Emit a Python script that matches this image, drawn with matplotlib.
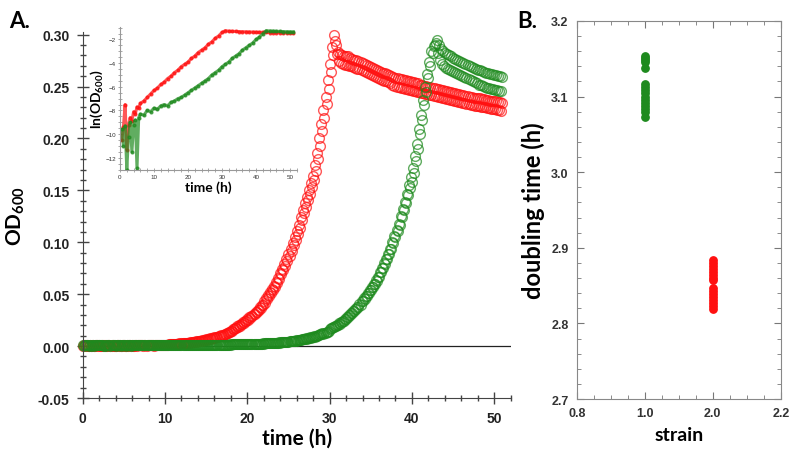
import numpy as np
import matplotlib.pyplot as plt
from matplotlib.ticker import MultipleLocator, FormatStrFormatter

plt.rcParams['font.family'] = ['Liberation Sans', 'DejaVu Sans']
plt.rcParams['mathtext.fontset'] = 'custom'
plt.rcParams['mathtext.rm'] = 'Lato'
plt.rcParams['mathtext.bf'] = 'Lato:bold'

RED = '#ff1010'
GREEN = '#1e8a1e'
LABEL_FONT = ['Lato', 'DejaVu Sans']

# --- panel A: OD600 readings, two replicates per strain ---
# replicate a read every 0.25 h from 0 h, replicate b every 0.25 h from 0.125 h
time_a = np.arange(0, 51.01, 0.25)
time_b = np.arange(0.125, 50.9, 0.25)

red_od_a = [
    0.000, 0.001, 0.001, 0.000, 0.000, 0.001, 0.000, 0.001,
    0.001, 0.000, 0.000, 0.001, 0.000, 0.001, 0.000, 0.000,
    0.000, 0.001, 0.001, 0.000, 0.001, 0.000, 0.000, 0.001,
    0.001, 0.000, 0.001, 0.001, 0.001, 0.001, 0.001, 0.000,
    0.001, 0.001, 0.001, 0.001, 0.001, 0.001, 0.001, 0.001,
    0.001, 0.001, 0.002, 0.002, 0.002, 0.002, 0.002, 0.003,
    0.003, 0.003, 0.003, 0.003, 0.004, 0.004, 0.004, 0.005,
    0.005, 0.005, 0.006, 0.006, 0.007, 0.007, 0.008, 0.008,
    0.009, 0.009, 0.010, 0.011, 0.011, 0.012, 0.013, 0.014,
    0.015, 0.016, 0.017, 0.019, 0.020, 0.021, 0.023, 0.024,
    0.026, 0.028, 0.029, 0.031, 0.033, 0.035, 0.038, 0.040,
    0.043, 0.046, 0.049, 0.052, 0.055, 0.058, 0.062, 0.066,
    0.070, 0.074, 0.079, 0.084, 0.089, 0.094, 0.099, 0.105,
    0.111, 0.117, 0.124, 0.131, 0.138, 0.144, 0.150, 0.157,
    0.164, 0.174, 0.186, 0.200, 0.214, 0.227, 0.240, 0.256,
    0.272, 0.288, 0.300, 0.290, 0.283, 0.281, 0.280, 0.279,
    0.279, 0.279, 0.278, 0.277, 0.276, 0.276, 0.275, 0.274,
    0.273, 0.272, 0.271, 0.270, 0.269, 0.268, 0.267, 0.266,
    0.265, 0.264, 0.263, 0.263, 0.262, 0.261, 0.260, 0.259,
    0.258, 0.258, 0.257, 0.257, 0.256, 0.256, 0.255, 0.255,
    0.254, 0.254, 0.253, 0.253, 0.252, 0.252, 0.251, 0.251,
    0.250, 0.250, 0.249, 0.249, 0.248, 0.248, 0.247, 0.247,
    0.246, 0.246, 0.245, 0.245, 0.244, 0.244, 0.243, 0.243,
    0.242, 0.242, 0.241, 0.241, 0.240, 0.240, 0.239, 0.239,
    0.239, 0.239, 0.238, 0.238, 0.237, 0.237, 0.236, 0.236,
    0.236, 0.236, 0.235, 0.235, 0.234,
]
red_od_b = [
    0.001, 0.000, 0.000, 0.001, 0.000, 0.000, 0.001, 0.000,
    0.000, 0.001, 0.001, 0.000, 0.001, 0.000, 0.001, 0.000,
    0.001, 0.000, 0.000, 0.001, 0.000, 0.001, 0.001, 0.000,
    0.000, 0.001, 0.000, 0.001, 0.001, 0.000, 0.001, 0.001,
    0.001, 0.001, 0.000, 0.001, 0.001, 0.001, 0.001, 0.001,
    0.001, 0.001, 0.002, 0.002, 0.002, 0.002, 0.002, 0.002,
    0.003, 0.003, 0.003, 0.003, 0.003, 0.004, 0.004, 0.004,
    0.005, 0.005, 0.005, 0.006, 0.006, 0.007, 0.007, 0.008,
    0.008, 0.009, 0.010, 0.010, 0.011, 0.012, 0.013, 0.014,
    0.015, 0.016, 0.017, 0.018, 0.019, 0.021, 0.022, 0.024,
    0.025, 0.027, 0.029, 0.031, 0.033, 0.035, 0.037, 0.040,
    0.042, 0.045, 0.048, 0.051, 0.054, 0.057, 0.061, 0.065,
    0.069, 0.073, 0.077, 0.082, 0.087, 0.092, 0.097, 0.102,
    0.108, 0.114, 0.121, 0.128, 0.134, 0.141, 0.147, 0.153,
    0.160, 0.169, 0.180, 0.193, 0.207, 0.220, 0.233, 0.248,
    0.264, 0.280, 0.294, 0.281, 0.275, 0.273, 0.272, 0.271,
    0.271, 0.270, 0.270, 0.269, 0.268, 0.267, 0.267, 0.266,
    0.265, 0.264, 0.263, 0.262, 0.261, 0.260, 0.259, 0.258,
    0.257, 0.256, 0.255, 0.255, 0.254, 0.253, 0.252, 0.251,
    0.250, 0.250, 0.249, 0.249, 0.248, 0.248, 0.247, 0.247,
    0.246, 0.246, 0.245, 0.245, 0.244, 0.244, 0.243, 0.243,
    0.242, 0.242, 0.241, 0.241, 0.240, 0.240, 0.239, 0.239,
    0.238, 0.238, 0.237, 0.237, 0.236, 0.236, 0.235, 0.235,
    0.234, 0.234, 0.233, 0.233, 0.232, 0.232, 0.231, 0.231,
    0.231, 0.230, 0.230, 0.230, 0.229, 0.229, 0.228, 0.228,
    0.228, 0.227, 0.227, 0.226,
]
green_od_a = [
    0.001, 0.001, 0.001, 0.000, 0.000, 0.001, 0.001, 0.001,
    0.001, 0.001, 0.001, 0.000, 0.001, 0.001, 0.001, 0.001,
    0.000, 0.001, 0.001, 0.001, 0.001, 0.000, 0.001, 0.001,
    0.001, 0.001, 0.001, 0.001, 0.001, 0.001, 0.001, 0.001,
    0.001, 0.001, 0.001, 0.001, 0.001, 0.001, 0.001, 0.001,
    0.001, 0.001, 0.001, 0.001, 0.001, 0.001, 0.001, 0.001,
    0.001, 0.001, 0.001, 0.001, 0.001, 0.001, 0.001, 0.001,
    0.001, 0.001, 0.001, 0.001, 0.001, 0.001, 0.001, 0.001,
    0.001, 0.001, 0.001, 0.001, 0.001, 0.001, 0.001, 0.001,
    0.001, 0.002, 0.002, 0.002, 0.002, 0.002, 0.002, 0.002,
    0.002, 0.002, 0.002, 0.002, 0.002, 0.002, 0.002, 0.002,
    0.002, 0.003, 0.003, 0.003, 0.003, 0.003, 0.003, 0.003,
    0.003, 0.004, 0.004, 0.004, 0.004, 0.005, 0.005, 0.005,
    0.005, 0.006, 0.006, 0.007, 0.007, 0.007, 0.008, 0.008,
    0.009, 0.009, 0.010, 0.011, 0.012, 0.012, 0.013, 0.014,
    0.016, 0.017, 0.018, 0.019, 0.020, 0.021, 0.023, 0.024,
    0.026, 0.028, 0.030, 0.032, 0.034, 0.036, 0.038, 0.040,
    0.043, 0.045, 0.048, 0.051, 0.054, 0.057, 0.060, 0.063,
    0.067, 0.071, 0.075, 0.079, 0.084, 0.089, 0.094, 0.099,
    0.105, 0.111, 0.117, 0.124, 0.131, 0.138, 0.146, 0.152,
    0.158, 0.167, 0.178, 0.190, 0.204, 0.218, 0.232, 0.245,
    0.258, 0.270, 0.282, 0.290, 0.295, 0.290, 0.286, 0.284,
    0.282, 0.281, 0.280, 0.279, 0.278, 0.277, 0.276, 0.275,
    0.274, 0.273, 0.272, 0.271, 0.270, 0.269, 0.268, 0.267,
    0.266, 0.266, 0.265, 0.264, 0.263, 0.263, 0.262, 0.262,
    0.261, 0.261, 0.260, 0.260, 0.259,
]
green_od_b = [
    0.000, 0.001, 0.001, 0.001, 0.001, 0.000, 0.001, 0.001,
    0.001, 0.001, 0.000, 0.001, 0.001, 0.000, 0.001, 0.001,
    0.001, 0.001, 0.000, 0.001, 0.001, 0.001, 0.001, 0.000,
    0.001, 0.001, 0.001, 0.001, 0.001, 0.001, 0.001, 0.001,
    0.001, 0.001, 0.001, 0.001, 0.001, 0.001, 0.001, 0.001,
    0.001, 0.001, 0.001, 0.001, 0.001, 0.001, 0.001, 0.001,
    0.001, 0.001, 0.001, 0.001, 0.001, 0.001, 0.001, 0.001,
    0.001, 0.001, 0.001, 0.001, 0.001, 0.001, 0.001, 0.001,
    0.001, 0.001, 0.001, 0.001, 0.001, 0.001, 0.001, 0.002,
    0.002, 0.002, 0.002, 0.002, 0.002, 0.002, 0.002, 0.002,
    0.002, 0.002, 0.002, 0.002, 0.002, 0.002, 0.002, 0.003,
    0.003, 0.003, 0.003, 0.003, 0.003, 0.003, 0.003, 0.004,
    0.004, 0.004, 0.004, 0.004, 0.005, 0.005, 0.005, 0.006,
    0.006, 0.006, 0.007, 0.007, 0.008, 0.008, 0.009, 0.009,
    0.010, 0.010, 0.011, 0.012, 0.013, 0.013, 0.014, 0.015,
    0.017, 0.018, 0.019, 0.020, 0.022, 0.023, 0.024, 0.026,
    0.028, 0.030, 0.032, 0.034, 0.036, 0.038, 0.041, 0.043,
    0.046, 0.048, 0.051, 0.054, 0.057, 0.060, 0.064, 0.067,
    0.071, 0.075, 0.080, 0.084, 0.089, 0.094, 0.100, 0.106,
    0.112, 0.118, 0.125, 0.132, 0.139, 0.147, 0.155, 0.163,
    0.172, 0.183, 0.195, 0.209, 0.223, 0.237, 0.250, 0.262,
    0.274, 0.284, 0.289, 0.292, 0.282, 0.276, 0.272, 0.270,
    0.268, 0.267, 0.266, 0.265, 0.264, 0.263, 0.262, 0.261,
    0.260, 0.259, 0.258, 0.257, 0.256, 0.255, 0.254, 0.253,
    0.252, 0.252, 0.251, 0.250, 0.249, 0.249, 0.248, 0.248,
    0.247, 0.247, 0.246, 0.246,
]

# --- inset: ln(OD600) ---
inset_time = [0.5, 1, 1.5, 2, 2.5, 3, 3.5, 4, 4.5, 5, 5.5, 6] + list(range(7, 52))
red_ln = [
    -10.5, -9.4, -7.5, -11.3, -9.2, -8.6, -8.9, -8.1, -8.3, -7.7, -7.8, -7.4,
    -7.2, -6.9, -6.6, -6.3, -6.1, -5.8, -5.6, -5.3, -5.1, -4.8,
    -4.6, -4.3, -4.1, -3.9, -3.6, -3.4, -3.1, -2.9, -2.7, -2.4,
    -2.2, -1.9, -1.7, -1.4, -1.25, -1.30, -1.31, -1.32, -1.33, -1.34,
    -1.35, -1.36, -1.37, -1.38, -1.39, -1.39, -1.40, -1.41, -1.42, -1.42,
    -1.43, -1.44, -1.44, -1.45, -1.46,
]
green_ln = [
    -9.6, -11.0, -9.3, -13.0, -10.2, -9.0, -11.5, -9.2, -8.8, -12.9, -8.6, -8.3,
    -8.4, -8.0, -8.1, -7.8, -7.9, -7.6, -7.5, -7.6, -7.3, -7.2,
    -7.0, -6.9, -6.7, -6.5, -6.3, -6.1, -5.9, -5.7, -5.5, -5.3,
    -5.0, -4.8, -4.6, -4.3, -4.1, -3.9, -3.6, -3.4, -3.2, -2.9,
    -2.7, -2.5, -2.3, -2.0, -1.8, -1.5, -1.25, -1.28, -1.29, -1.31,
    -1.32, -1.33, -1.34, -1.35, -1.36,
]

# --- panel B: doubling times ---
# the strain axis is drawn with four evenly spaced labels
strain_ticks = ['0.8', '1.0', '2.0', '2.2']
strain_green = '1.0'
strain_red = '2.0'
green_doubling = [3.154, 3.151, 3.148, 3.145, 3.138, 3.116, 3.112, 3.108,
                  3.104, 3.100, 3.096, 3.092, 3.088, 3.084, 3.079, 3.073]
red_doubling = [2.884, 2.880, 2.876, 2.872, 2.868, 2.864, 2.860, 2.857,
                2.847, 2.843, 2.839, 2.835, 2.831, 2.827, 2.823, 2.819]

fig = plt.figure(figsize=(8, 4.6), dpi=100)

# panel A
ax = fig.add_axes([0.1034, 0.1326, 0.535, 0.7966])
circ = dict(ls='none', marker='o', ms=7, mfc='none', mew=1.0, clip_on=False)
ax.plot(time_a, red_od_a, mec=RED, alpha=0.7, **circ)
ax.plot(time_b, red_od_b, mec=RED, alpha=0.7, **circ)
ax.plot(time_a, green_od_a, mec=GREEN, alpha=0.7, **circ)
ax.plot(time_b, green_od_b, mec=GREEN, alpha=0.7, **circ)
ax.axhline(0, color='#222222', lw=0.9, zorder=1)
ax.set_xlim(0, 52)
ax.set_ylim(-0.05, 0.303)
ax.spines['top'].set_visible(False)
ax.spines['right'].set_visible(False)
for s in ('left', 'bottom'):
    ax.spines[s].set_color('#444444')
ax.xaxis.set_major_locator(MultipleLocator(10))
ax.xaxis.set_minor_locator(MultipleLocator(2))
ax.yaxis.set_major_locator(MultipleLocator(0.05))
ax.yaxis.set_minor_locator(MultipleLocator(0.01))
ax.yaxis.set_major_formatter(FormatStrFormatter('%.2f'))
ax.tick_params(which='major', direction='inout', length=9, width=1, color='#444444',
               labelsize=10, pad=5)
ax.tick_params(which='minor', direction='inout', length=5, width=1, color='#444444')
for lab in ax.get_xticklabels() + ax.get_yticklabels():
    lab.set_fontweight('bold')
    lab.set_color('#222222')
ax.set_xlabel('time (h)', family=LABEL_FONT, fontsize=15, fontweight='bold', labelpad=2)
ax.set_ylabel(r'$\mathbf{OD_{600}}$', fontsize=15, labelpad=8)
fig.text(0.012, 0.94, 'A.', family=LABEL_FONT, fontsize=16, fontweight='bold')

# inset
ins = fig.add_axes([0.15, 0.629, 0.221, 0.31])
ins.patch.set_alpha(0)
ins.plot(inset_time, red_ln, color=RED, lw=2.2, marker='o', ms=2, alpha=0.7)
ins.plot(inset_time, green_ln, color=GREEN, lw=2.2, marker='o', ms=2, alpha=0.7)
ins.set_xlim(0, 52)
ins.set_ylim(-13, -0.95)
ins.spines['top'].set_visible(False)
ins.spines['right'].set_visible(False)
for s in ('left', 'bottom'):
    ins.spines[s].set_color('#999999')
    ins.spines[s].set_linewidth(0.8)
ins.xaxis.set_major_locator(MultipleLocator(10))
ins.xaxis.set_minor_locator(MultipleLocator(2))
ins.yaxis.set_major_locator(MultipleLocator(2))
ins.yaxis.set_minor_locator(MultipleLocator(0.5))
ins.tick_params(which='both', direction='inout', length=3, width=0.6, color='#999999',
                labelsize=4.5, pad=1.5, labelcolor='#333333')
ins.set_xlabel('time (h)', family=LABEL_FONT, fontsize=10, fontweight='bold', labelpad=1)
ins.set_ylabel(r'$\mathbf{ln(OD_{600})}$', fontsize=10, labelpad=0)

# panel B
axb = fig.add_axes([0.721, 0.1304, 0.255, 0.822])
x_green = strain_ticks.index(strain_green)
x_red = strain_ticks.index(strain_red)
axb.scatter([x_green] * len(green_doubling), green_doubling, s=28, color=GREEN, zorder=3)
axb.scatter([x_red] * len(red_doubling), red_doubling, s=28, color=RED, zorder=3)
axb.set_xlim(0, len(strain_ticks) - 1)
axb.set_ylim(2.7, 3.2)
for s in axb.spines.values():
    s.set_color('#888888')
axb.set_xticks(range(len(strain_ticks)))
axb.set_xticklabels(strain_ticks)
axb.xaxis.set_minor_locator(MultipleLocator(0.25))
axb.yaxis.set_major_locator(MultipleLocator(0.1))
axb.yaxis.set_minor_locator(MultipleLocator(0.02))
axb.yaxis.set_major_formatter(FormatStrFormatter('%.1f'))
axb.tick_params(which='both', direction='in', top=True, right=True, color='#777777')
axb.tick_params(which='major', length=5, labelsize=9, pad=6)
axb.tick_params(which='minor', length=3)
for lab in axb.get_xticklabels() + axb.get_yticklabels():
    lab.set_fontweight('bold')
    lab.set_color('#333333')
axb.set_xlabel('strain', family=LABEL_FONT, fontsize=14, fontweight='bold', labelpad=5)
axb.set_ylabel('doubling time (h)', family=LABEL_FONT, fontsize=17, fontweight='bold', labelpad=4)
fig.text(0.646, 0.94, 'B.', family=LABEL_FONT, fontsize=16, fontweight='bold')

fig.savefig('out.png', dpi=100)
